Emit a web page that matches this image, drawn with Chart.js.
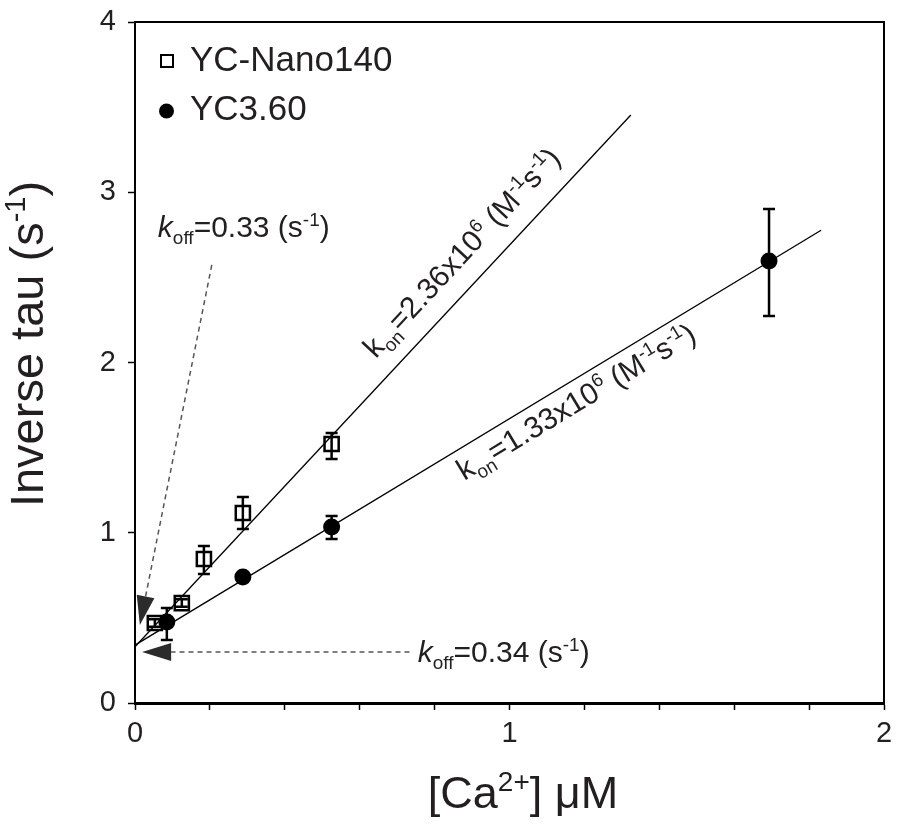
<!DOCTYPE html>
<html>
<head>
<meta charset="utf-8">
<script src="https://cdn.jsdelivr.net/npm/chart.js"></script>
<style>
  html, body { margin: 0; padding: 0; background: #fff; }
</style>
</head>
<body>
<canvas id="kinChart" width="899" height="825"></canvas>
<script>
/// Data
// YC-Nano140 (open squares)
const nanoX  = [0.053, 0.125, 0.184, 0.288, 0.525];
const nanoY  = [0.470, 0.587, 0.846, 1.116, 1.521];
const nanoLo = [0.448, 0.565, 0.758, 1.022, 1.433];
const nanoHi = [0.492, 0.609, 0.922, 1.210, 1.586];
// YC3.60 (filled circles)
const ycX  = [0.085, 0.288, 0.525, 1.693];
const ycY  = [0.476, 0.740, 1.034, 2.596];
const ycLo = [0.370, 0.722, 0.963, 2.273];
const ycHi = [0.558, 0.758, 1.098, 2.902];
// fitted lines, end points
const nanoFitX = [0, 1.324];
const nanoFitY = [0.33, 3.454];
const ycFitX = [0, 1.832];
const ycFitY = [0.34, 2.777];
// axes
const xMin = 0, xMax = 2, xStep = 0.2;
const yMin = 0, yMax = 4, yStep = 1;
// koff arrows: [xStart, yStart, xTip, yTip]
const koffNanoArrow = [0.205, 2.573, 0.013, 0.458];
const koffYcArrow = [0.733, 0.30, 0.019, 0.30];
// koff text anchors [x, y]
const koffNanoText = [0.061, 2.737];
const koffYcText = [0.755, 0.241];
// kon label anchors (x along the fit line)
const konNanoAt = 0.682;
const konYcAt = 0.838;

const FONT = '"Liberation Sans", Arial, Helvetica, sans-serif';
const INK = '#231f20';

function toPts(xs, ys) {
    return xs.map((x, i) => ({ x: x, y: ys[i] }));
}

/// Draw text made of normal / sub / sup pieces
function richText(ctx, parts, x, y, size, align) {
    const fontOf = p => (p.it ? 'italic ' : '') + ((p.sub || p.sup) ? Math.round(size * 0.62) : size) + 'px ' + FONT;
    const widths = parts.map(p => { ctx.font = fontOf(p); return ctx.measureText(p.t).width; });
    const total = widths.reduce((a, b) => a + b, 0);
    let cx = align === 'center' ? x - total / 2 : x;
    ctx.textAlign = 'left';
    ctx.textBaseline = 'alphabetic';
    parts.forEach((p, i) => {
        ctx.font = fontOf(p);
        const dy = p.sub ? size * 0.24 : (p.sup ? -size * 0.38 : 0);
        ctx.fillText(p.t, cx, y + dy);
        cx += widths[i];
    });
}

function dashedArrow(chart, a) {
    const ctx = chart.ctx;
    const sx = chart.scales.x, sy = chart.scales.y;
    const x0 = sx.getPixelForValue(a[0]), y0 = sy.getPixelForValue(a[1]);
    const x1 = sx.getPixelForValue(a[2]), y1 = sy.getPixelForValue(a[3]);
    const len = Math.hypot(x1 - x0, y1 - y0);
    const ux = (x1 - x0) / len, uy = (y1 - y0) / len;
    const headL = 29, headW = 9;
    const bx = x1 - ux * headL, by = y1 - uy * headL;
    ctx.save();
    ctx.strokeStyle = '#555';
    ctx.lineWidth = 1.5;
    ctx.setLineDash([5, 4]);
    ctx.beginPath();
    ctx.moveTo(x0, y0);
    ctx.lineTo(bx, by);
    ctx.stroke();
    ctx.setLineDash([]);
    ctx.fillStyle = '#2b2b2b';
    ctx.beginPath();
    ctx.moveTo(x1, y1);
    ctx.lineTo(bx - uy * headW, by + ux * headW);
    ctx.lineTo(bx + uy * headW, by - ux * headW);
    ctx.closePath();
    ctx.fill();
    ctx.restore();
}

function konLabel(chart, fx, fy, at, offset, parts) {
    const ctx = chart.ctx;
    const sx = chart.scales.x, sy = chart.scales.y;
    const px0 = sx.getPixelForValue(fx[0]), py0 = sy.getPixelForValue(fy[0]);
    const px1 = sx.getPixelForValue(fx[1]), py1 = sy.getPixelForValue(fy[1]);
    const ang = Math.atan2(py1 - py0, px1 - px0);
    const t = (at - fx[0]) / (fx[1] - fx[0]);
    const footX = px0 + (px1 - px0) * t, footY = py0 + (py1 - py0) * t;
    const bx = footX + offset * Math.sin(ang), by = footY - offset * Math.cos(ang);
    ctx.save();
    ctx.translate(bx, by);
    ctx.rotate(ang);
    ctx.fillStyle = INK;
    richText(ctx, parts, 0, 0, 30, 'left');
    ctx.restore();
}

/// Error bars
const errorBars = {
    id: 'errorBars',
    afterDatasetsDraw(chart) {
        const ctx = chart.ctx;
        const sy = chart.scales.y;
        chart.data.datasets.forEach((ds, i) => {
            if (!ds.errLo) return;
            const meta = chart.getDatasetMeta(i);
            ctx.save();
            ctx.strokeStyle = '#000';
            ctx.lineWidth = 2.5;
            meta.data.forEach((el, j) => {
                const x = el.x;
                const yl = sy.getPixelForValue(ds.errLo[j]);
                const yh = sy.getPixelForValue(ds.errHi[j]);
                ctx.beginPath();
                ctx.moveTo(x, yl); ctx.lineTo(x, yh);
                ctx.moveTo(x - 6, yl); ctx.lineTo(x + 6, yl);
                ctx.moveTo(x - 6, yh); ctx.lineTo(x + 6, yh);
                ctx.stroke();
            });
            ctx.restore();
        });
    }
};

/// Frame, legend, titles and annotations
const decorations = {
    id: 'decorations',
    afterDraw(chart) {
        const ctx = chart.ctx;
        const area = chart.chartArea;

        // top and right frame
        ctx.save();
        ctx.strokeStyle = '#000';
        ctx.lineWidth = 2;
        ctx.beginPath();
        ctx.moveTo(area.left, area.top);
        ctx.lineTo(area.right, area.top);
        ctx.lineTo(area.right, area.bottom);
        ctx.stroke();
        ctx.restore();

        // legend
        ctx.save();
        ctx.strokeStyle = '#000';
        ctx.lineWidth = 2;
        ctx.strokeRect(area.left + 26, area.top + 33, 12, 12);
        ctx.fillStyle = '#000';
        ctx.beginPath();
        ctx.arc(area.left + 31.5, area.top + 89, 7.5, 0, Math.PI * 2);
        ctx.fill();
        ctx.fillStyle = INK;
        ctx.font = '35px ' + FONT;
        ctx.textAlign = 'left';
        ctx.textBaseline = 'middle';
        ctx.fillText(chart.data.datasets[0].label, area.left + 55, area.top + 39);
        ctx.fillText(chart.data.datasets[1].label, area.left + 55, area.top + 88);
        ctx.restore();

        // axis titles
        ctx.save();
        ctx.fillStyle = INK;
        richText(ctx, [{ t: '[Ca' }, { t: '2+', sup: true }, { t: '] \u03bcM' }], 523, 808, 45, 'center');
        ctx.translate(43, 344);
        ctx.rotate(-Math.PI / 2);
        richText(ctx, [{ t: 'Inverse tau (s' }, { t: '-1', sup: true }, { t: ')' }], 0, 0, 47, 'center');
        ctx.restore();

        // koff arrows and text
        dashedArrow(chart, koffNanoArrow);
        dashedArrow(chart, koffYcArrow);
        const sx = chart.scales.x, sy = chart.scales.y;
        ctx.save();
        ctx.fillStyle = INK;
        const koffParts = v => [{ t: 'k', it: true }, { t: 'off', sub: true }, { t: '=' + v + ' (s' }, { t: '-1', sup: true }, { t: ')' }];
        richText(ctx, koffParts('0.33'), sx.getPixelForValue(koffNanoText[0]), sy.getPixelForValue(koffNanoText[1]), 30, 'left');
        richText(ctx, koffParts('0.34'), sx.getPixelForValue(koffYcText[0]), sy.getPixelForValue(koffYcText[1]), 30, 'left');
        ctx.restore();

        // kon labels along the fitted lines
        const konParts = v => [{ t: 'k' }, { t: 'on', sub: true }, { t: '=' + v + 'x10' }, { t: '6', sup: true },
            { t: ' (M' }, { t: '-1', sup: true }, { t: 's' }, { t: '-1', sup: true }, { t: ')' }];
        konLabel(chart, nanoFitX, nanoFitY, konNanoAt, 20, konParts('2.36'));
        konLabel(chart, ycFitX, ycFitY, konYcAt, -30, konParts('1.33'));
    }
};

const kinChart = new Chart('kinChart', {
    type: 'scatter',
    data: {
        datasets: [
            {
                label: 'YC-Nano140',
                data: toPts(nanoX, nanoY),
                errLo: nanoLo,
                errHi: nanoHi,
                pointStyle: 'rect',
                pointRadius: 10,
                pointBorderWidth: 2.5,
                borderColor: '#000',
                backgroundColor: 'rgba(0,0,0,0)'
            },
            {
                label: 'YC3.60',
                data: toPts(ycX, ycY),
                errLo: ycLo,
                errHi: ycHi,
                pointStyle: 'circle',
                pointRadius: 8.5,
                pointBorderWidth: 0,
                borderColor: '#000',
                backgroundColor: '#000'
            },
            {
                label: 'Nano140 fit',
                data: toPts(nanoFitX, nanoFitY),
                showLine: true,
                pointRadius: 0,
                borderWidth: 1.3,
                borderColor: '#000'
            },
            {
                label: 'YC3.60 fit',
                data: toPts(ycFitX, ycFitY),
                showLine: true,
                pointRadius: 0,
                borderWidth: 1.3,
                borderColor: '#000'
            }
        ]
    },
    options: {
        responsive: false,
        animation: false,
        layout: {
            padding: { top: 22, right: 15, left: 0, bottom: 0 }
        },
        plugins: {
            legend: { display: false },
            tooltip: { enabled: false }
        },
        scales: {
            x: {
                type: 'linear',
                min: xMin,
                max: xMax,
                afterFit: s => { s.height = 122; s.paddingLeft = 0; s.paddingRight = 0; },
                ticks: {
                    stepSize: xStep,
                    autoSkip: false,
                    maxRotation: 0,
                    padding: 7,
                    color: INK,
                    font: { family: FONT, size: 29 },
                    callback: v => Math.abs(v - Math.round(v)) < 1e-6 ? String(Math.round(v)) : ''
                },
                grid: {
                    drawOnChartArea: false,
                    tickLength: 7,
                    tickColor: '#000',
                    tickWidth: 1.5
                },
                border: { color: '#000', width: 3 }
            },
            y: {
                type: 'linear',
                min: yMin,
                max: yMax,
                afterFit: s => { s.width = 135; s.paddingTop = 0; s.paddingBottom = 0; },
                ticks: {
                    stepSize: yStep,
                    padding: 12,
                    color: INK,
                    font: { family: FONT, size: 29 }
                },
                grid: {
                    drawOnChartArea: false,
                    tickLength: 7,
                    tickColor: '#000',
                    tickWidth: 1.5
                },
                border: { color: '#000', width: 2 }
            }
        }
    },
    plugins: [errorBars, decorations]
});
</script>
</body>
</html>
